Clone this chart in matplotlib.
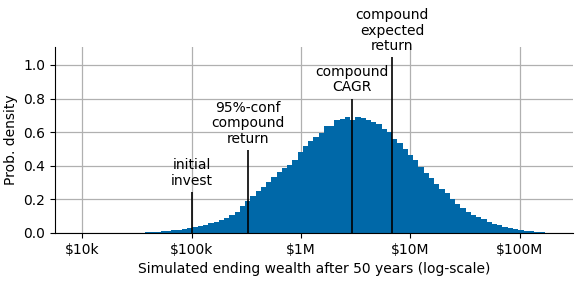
import numpy as np
import matplotlib
matplotlib.use('Agg')
import matplotlib.pyplot as plt
from matplotlib.ticker import NullLocator

# histogram of simulated ending wealth, log10 bins
bin_start = 4.529   # log10($) of first bin edge
bin_width = 0.048   # log10 units
density = [0.002, 0.003, 0.005, 0.007, 0.009, 0.012, 0.015, 0.019, 0.023, 0.028,
           0.033, 0.040, 0.048, 0.057, 0.067, 0.078, 0.091, 0.106, 0.124, 0.160,
           0.190, 0.220, 0.250, 0.275, 0.302, 0.332, 0.362, 0.385, 0.405, 0.437,
           0.483, 0.520, 0.545, 0.570, 0.595, 0.634, 0.634, 0.672, 0.679, 0.688,
           0.672, 0.688, 0.684, 0.672, 0.662, 0.648, 0.618, 0.602, 0.557, 0.538,
           0.498, 0.463, 0.435, 0.394, 0.359, 0.325, 0.291, 0.259, 0.236, 0.201,
           0.170, 0.147, 0.127, 0.110, 0.097, 0.083, 0.067, 0.055, 0.045, 0.037,
           0.030, 0.024, 0.018, 0.013, 0.009, 0.006, 0.004, 0.002]

# marker lines
marker_labels = ['initial\ninvest', '95%-conf\ncompound\nreturn',
                 'compound\nCAGR', 'compound\nexpected\nreturn']
marker_values = [100e3, 325e3, 2.9e6, 6.8e6]
marker_heights = [0.245, 0.493, 0.80, 1.045]

tick_values = [1e4, 1e5, 1e6, 1e7, 1e8]
tick_labels = ['$10k', '$100k', '$1M', '$10M', '$100M']

edges = 10 ** (bin_start + bin_width * np.arange(len(density) + 1))

fig = plt.figure(figsize=(5.81, 2.83), dpi=100)
ax = fig.add_axes([0.0947, 0.1767, 0.986 - 0.0947, 0.834 - 0.1767])

ax.stairs(density, edges, fill=True, color='#0068a8', zorder=2)
ax.set_xscale('log')

for lab, v, h in zip(marker_labels, marker_values, marker_heights):
    ax.vlines(v, 0, h, color='black', lw=1.2, zorder=3)
    ax.text(v, h + 0.025, lab, ha='center', va='bottom', fontsize=10,
            linespacing=1.15)

ax.set_xlim(10 ** 3.753, 10 ** 8.484)
ax.set_ylim(0, 1.107)
ax.set_xticks(tick_values)
ax.set_xticklabels(tick_labels)
ax.xaxis.set_minor_locator(NullLocator())
ax.set_yticks([0.0, 0.2, 0.4, 0.6, 0.8, 1.0])
ax.tick_params(labelsize=10)
ax.grid(True, color='#b0b0b0', lw=0.9, zorder=0)
ax.set_axisbelow(True)
ax.spines['top'].set_visible(False)
ax.spines['right'].set_visible(False)

ax.set_xlabel('Simulated ending wealth after 50 years (log-scale)', fontsize=10)
ax.set_ylabel('Prob. density', fontsize=10)

fig.savefig('out.png', dpi=100)
